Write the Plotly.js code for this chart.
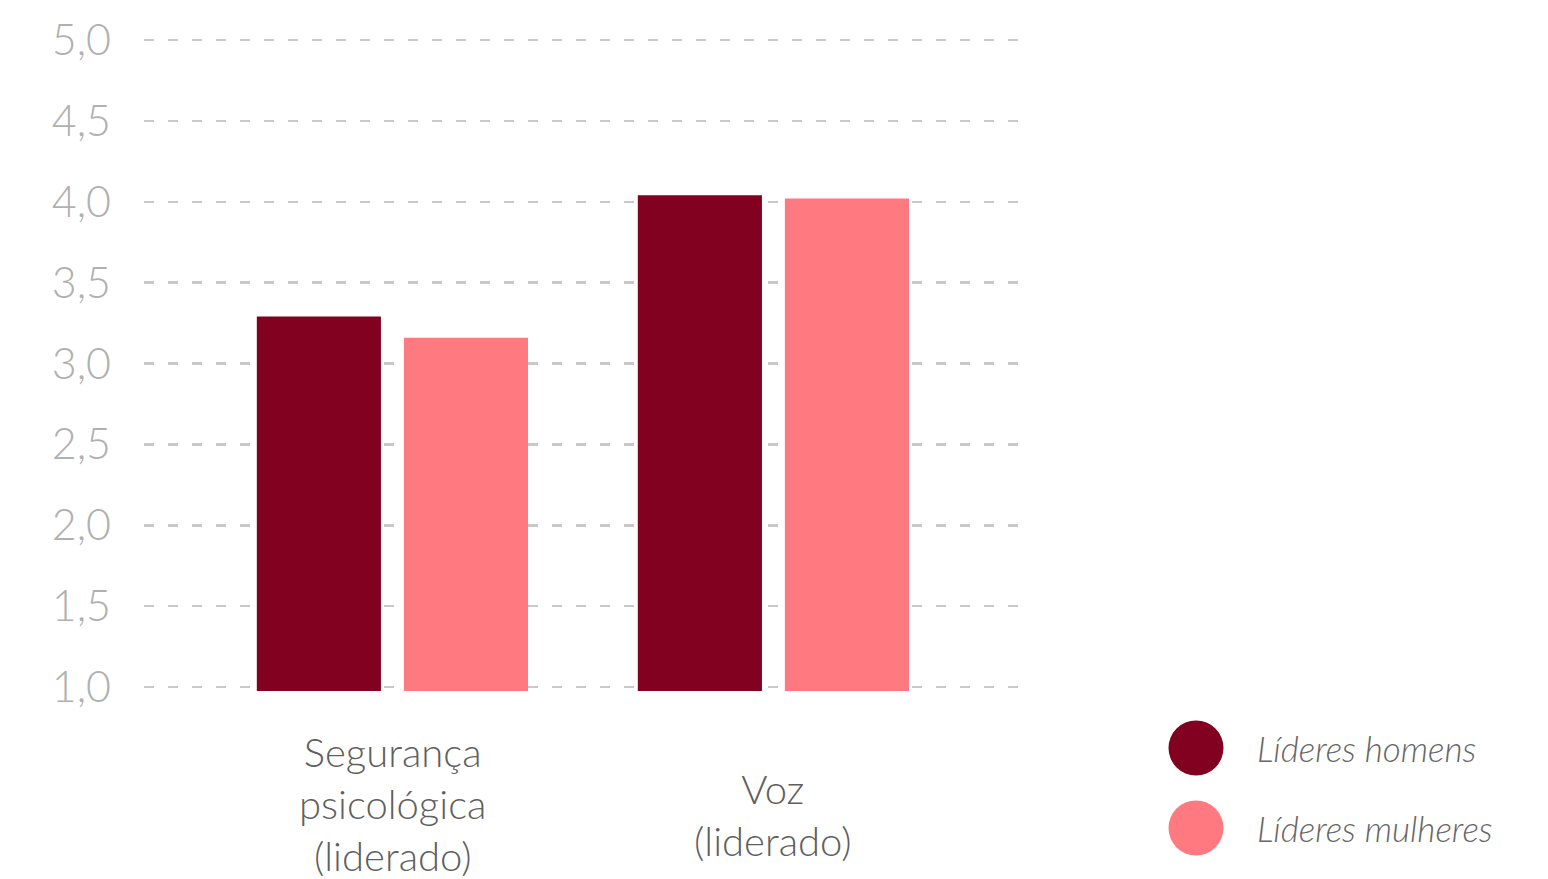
<!DOCTYPE html>
<html>
<head>
<meta charset="utf-8">
<script src="https://cdn.plot.ly/plotly-3.0.1.min.js"></script>
<style>html,body{margin:0;padding:0;background:#fff;}#chart{width:1548px;height:879px;}</style>
</head>
<body>
<div id="chart"></div>
<script>
const categories = ["Segurança<br>psicológica<br>(liderado)", "Voz<br>(liderado)"];
const seriesNames = ["Líderes homens", "Líderes mulheres"];
const homens = [3.29, 4.04];
const mulheres = [3.16, 4.02];
const colors = ["#820020", "#FF7981"];
const yTicks = [1.0, 1.5, 2.0, 2.5, 3.0, 3.5, 4.0, 4.5, 5.0];

const FONT = "Lato, 'Open Sans', sans-serif";
const series = [homens, mulheres];

const traces = series.map((vals, i) => ({
  type: "bar",
  x: categories,
  y: vals,
  name: seriesNames[i],
  marker: {color: colors[i]},
  showlegend: false,
  hoverinfo: "y+name"
}));

const plotL = 144, plotR = 1018, plotT = 30, plotB = 691;
const pw = plotR - plotL, ph = plotB - plotT;
const shapes = [], annotations = [];

// category labels, vertically centred under each group
const labelCentreY = [804, 815];
categories.forEach((c, i) => {
  annotations.push({
    xref: "x", yref: "paper",
    x: c, y: (plotB - labelCentreY[i]) / ph,
    xanchor: "center", yanchor: "middle",
    text: c, showarrow: false,
    font: {family: FONT, size: 40, color: "#5f5f5f", weight: 300}
  });
});

// legend drawn as circles + labels in paper coordinates
const legendY = [748, 828];
seriesNames.forEach((n, i) => {
  const cy = (plotB - legendY[i]) / ph;
  shapes.push({
    type: "circle", xref: "paper", yref: "paper",
    xsizemode: "pixel", ysizemode: "pixel",
    xanchor: (1196 - plotL) / pw, yanchor: cy,
    x0: -27.5, x1: 27.5, y0: -27.5, y1: 27.5,
    fillcolor: colors[i], line: {width: 0}
  });
  annotations.push({
    xref: "paper", yref: "paper",
    x: (1255 - plotL) / pw, y: cy,
    xanchor: "left", yanchor: "middle",
    text: "<i>" + n + "</i>", showarrow: false,
    font: {family: FONT, size: 35, color: "#666666", weight: 300}
  });
});

const layout = {
  width: 1548, height: 879,
  margin: {l: plotL, r: 1548 - plotR, t: plotT, b: 879 - plotB},
  paper_bgcolor: "#ffffff", plot_bgcolor: "#ffffff",
  separators: ", ",
  barmode: "group",
  bargap: 0.228,
  bargroupgap: 0.156,
  font: {family: FONT},
  xaxis: {
    range: [-0.652, 1.642],
    showgrid: false, zeroline: false, showline: false, ticks: "",
    showticklabels: false
  },
  yaxis: {
    range: [0.9753, 5.062],
    tickvals: yTicks,
    tickformat: ".1f",
    showgrid: true, gridcolor: "#c8c8c8", gridwidth: 2.5, griddash: "10px,14px",
    zeroline: false, showline: false, ticks: "",
    tickfont: {family: FONT, size: 43, color: "#b0b0b0", weight: 300},
    ticklabelstandoff: 32
  },
  shapes: shapes,
  annotations: annotations,
  showlegend: false
};

Plotly.newPlot("chart", traces, layout, {displayModeBar: false, staticPlot: true});
</script>
</body>
</html>
